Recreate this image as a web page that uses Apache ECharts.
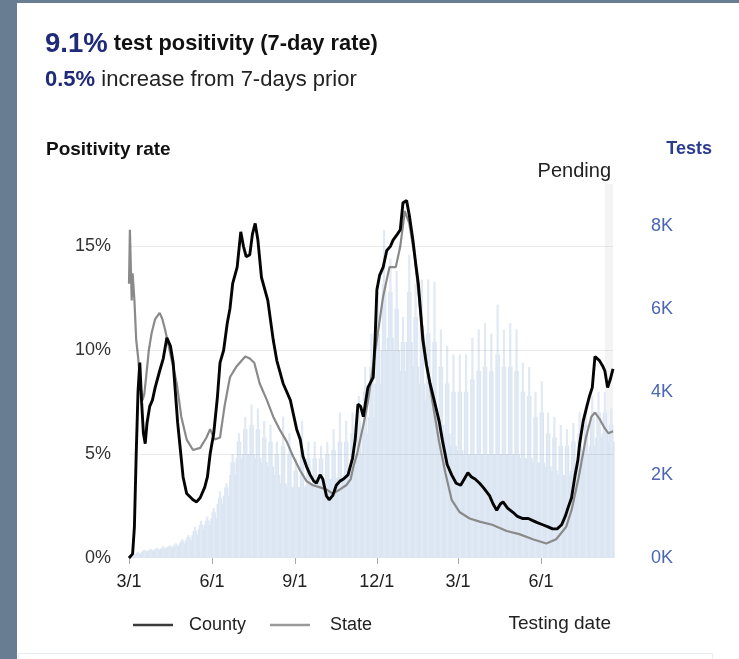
<!DOCTYPE html>
<html>
<head>
<meta charset="utf-8">
<script src="https://cdn.jsdelivr.net/npm/echarts@6/dist/echarts.min.js"></script>
<style>
  html, body { margin: 0; padding: 0; }
  body { width: 739px; height: 659px; background: #687c92; position: relative; overflow: hidden; }
  #panel { position: absolute; left: 17px; top: 3px; right: 0; bottom: 0; background: #fff; }
  #nextbox { position: absolute; left: 18px; top: 653px; width: 693px; height: 30px; border: 1px solid #e8ecf4; background: #fff; }
  #chart { position: absolute; left: 0; top: 0; width: 739px; height: 659px; }
</style>
</head>
<body>
<div id="panel"></div>
<div id="nextbox"></div>
<div id="chart"></div>
<script>
// ---- Data ----
const headlineRate = '9.1%';
const headlineChange = '0.5%';

// County 7-day positivity (%), [date, value]
const countyRate = [
  ['2020-03-01',0],['2020-03-05',0.2],['2020-03-07',1.5],['2020-03-09',5.0],['2020-03-11',8.0],
  ['2020-03-13',9.4],['2020-03-15',7.5],['2020-03-17',6.0],['2020-03-19',5.5],['2020-03-21',6.5],
  ['2020-03-24',7.3],['2020-03-27',7.6],['2020-03-30',8.2],['2020-04-04',9.0],['2020-04-08',9.6],
  ['2020-04-12',10.6],['2020-04-16',10.2],['2020-04-19',9.4],['2020-04-24',6.5],['2020-04-30',3.9],
  ['2020-05-04',3.1],['2020-05-11',2.8],['2020-05-15',2.7],['2020-05-19',2.9],['2020-05-24',3.4],
  ['2020-05-27',3.9],['2020-05-30',5.0],['2020-06-03',6.0],['2020-06-07',7.7],['2020-06-10',9.4],
  ['2020-06-14',10.0],['2020-06-18',11.3],['2020-06-21',12.0],['2020-06-24',13.2],['2020-06-29',14.0],
  ['2020-07-03',15.7],['2020-07-06',15.0],['2020-07-09',14.5],['2020-07-13',14.6],['2020-07-16',15.6],
  ['2020-07-19',16.1],['2020-07-22',15.3],['2020-07-26',13.5],['2020-08-02',12.4],['2020-08-08',10.5],
  ['2020-08-12',9.5],['2020-08-19',8.4],['2020-08-23',8.0],['2020-08-27',7.6],['2020-08-31',6.8],
  ['2020-09-03',6.2],['2020-09-07',5.7],['2020-09-10',4.9],['2020-09-14',4.4],['2020-09-18',4.0],
  ['2020-09-22',3.7],['2020-09-25',3.6],['2020-09-29',4.0],['2020-10-02',3.8],['2020-10-06',3.0],
  ['2020-10-09',2.8],['2020-10-13',3.0],['2020-10-17',3.5],['2020-10-21',3.7],['2020-10-25',3.8],
  ['2020-10-30',4.0],['2020-11-04',4.8],['2020-11-07',5.7],['2020-11-10',7.4],['2020-11-13',7.3],
  ['2020-11-16',6.8],['2020-11-21',8.2],['2020-11-27',8.7],['2020-11-29',10.5],['2020-12-01',12.9],
  ['2020-12-04',13.6],['2020-12-08',14.0],['2020-12-12',14.8],['2020-12-16',15.0],['2020-12-19',15.3],
  ['2020-12-24',15.6],['2020-12-27',15.8],['2020-12-30',17.1],['2021-01-03',17.2],['2021-01-06',16.5],
  ['2021-01-10',15.3],['2021-01-13',14.2],['2021-01-16',13.2],['2021-01-21',10.5],['2021-01-25',9.3],
  ['2021-01-29',8.4],['2021-02-02',7.7],['2021-02-08',6.6],['2021-02-12',5.6],['2021-02-17',4.5],
  ['2021-02-22',4.0],['2021-02-27',3.6],['2021-03-04',3.5],['2021-03-08',3.8],['2021-03-12',4.1],
  ['2021-03-16',3.9],['2021-03-20',3.8],['2021-03-25',3.6],['2021-03-29',3.4],['2021-04-05',3.0],
  ['2021-04-09',2.6],['2021-04-13',2.3],['2021-04-17',2.6],['2021-04-20',2.7],['2021-04-25',2.4],
  ['2021-05-01',2.2],['2021-05-06',2.0],['2021-05-12',1.9],['2021-05-18',1.9],['2021-05-23',1.8],
  ['2021-05-28',1.7],['2021-06-03',1.6],['2021-06-09',1.5],['2021-06-14',1.4],['2021-06-19',1.4],
  ['2021-06-24',1.6],['2021-06-28',2.0],['2021-07-01',2.4],['2021-07-05',2.9],['2021-07-09',4.0],
  ['2021-07-12',4.7],['2021-07-14',5.5],['2021-07-18',6.6],['2021-07-22',7.3],['2021-07-25',7.8],
  ['2021-07-28',8.2],['2021-07-31',9.7],['2021-08-05',9.5],['2021-08-09',9.2],['2021-08-11',9.0],
  ['2021-08-14',8.2],['2021-08-17',8.6],['2021-08-20',9.1]
];

// State 7-day positivity (%), [date, value]
const stateRate = [
  ['2020-03-01',13.2],['2020-03-02',15.8],['2020-03-04',12.4],['2020-03-05',13.7],['2020-03-07',12.4],
  ['2020-03-09',10.5],['2020-03-11',9.7],['2020-03-14',8.2],['2020-03-16',7.6],['2020-03-18',7.9],
  ['2020-03-20',8.7],['2020-03-23',10.0],['2020-03-26',10.8],['2020-03-30',11.5],['2020-04-04',11.8],
  ['2020-04-07',11.5],['2020-04-10',11.0],['2020-04-15',10.0],['2020-04-19',9.2],['2020-04-23',8.4],
  ['2020-04-28',6.8],['2020-05-04',5.7],['2020-05-11',5.2],['2020-05-19',5.3],['2020-05-26',5.8],
  ['2020-05-30',6.2],['2020-06-04',5.7],['2020-06-10',5.8],['2020-06-15',7.3],['2020-06-21',8.7],
  ['2020-06-28',9.2],['2020-07-08',9.7],['2020-07-13',9.6],['2020-07-18',9.4],['2020-07-24',8.4],
  ['2020-08-01',7.6],['2020-08-08',6.8],['2020-08-15',6.2],['2020-08-23',5.6],['2020-08-30',4.9],
  ['2020-09-07',4.2],['2020-09-14',3.7],['2020-09-21',3.5],['2020-09-29',3.4],['2020-10-06',3.3],
  ['2020-10-13',3.1],['2020-10-21',3.3],['2020-10-28',3.5],['2020-11-02',3.8],['2020-11-05',4.4],
  ['2020-11-09',5.0],['2020-11-13',5.8],['2020-11-17',6.6],['2020-11-21',7.5],['2020-11-26',9.0],
  ['2020-12-02',10.8],['2020-12-08',12.6],['2020-12-15',14.0],['2020-12-22',14.0],['2020-12-27',15.0],
  ['2021-01-01',16.7],['2021-01-06',16.1],['2021-01-12',14.5],['2021-01-17',12.4],['2021-01-24',9.7],
  ['2021-01-31',7.7],['2021-02-08',5.6],['2021-02-15',4.1],['2021-02-22',2.8],['2021-03-03',2.2],
  ['2021-03-14',1.9],['2021-03-25',1.75],['2021-04-08',1.6],['2021-04-24',1.3],['2021-05-08',1.15],
  ['2021-05-23',0.9],['2021-06-07',0.7],['2021-06-18',0.9],['2021-06-29',1.5],['2021-07-05',2.3],
  ['2021-07-13',3.9],['2021-07-21',5.8],['2021-07-27',6.8],['2021-07-31',7.0],['2021-08-05',6.7],
  ['2021-08-10',6.3],['2021-08-15',6.0],['2021-08-20',6.1]
];

// Tests per day (thousands), one entry per week: low level, typical level, weekly high
const weekDates = [
  '2020-03-04','2020-03-11','2020-03-18','2020-03-25','2020-04-01','2020-04-08','2020-04-15','2020-04-22',
  '2020-04-29','2020-05-06','2020-05-13','2020-05-20','2020-05-27','2020-06-03','2020-06-10','2020-06-17',
  '2020-06-24','2020-07-01','2020-07-08','2020-07-15','2020-07-22','2020-07-29','2020-08-05','2020-08-12',
  '2020-08-19','2020-08-26','2020-09-02','2020-09-09','2020-09-16','2020-09-23','2020-09-30','2020-10-07',
  '2020-10-14','2020-10-21','2020-10-28','2020-11-04','2020-11-11','2020-11-18','2020-11-25','2020-12-02',
  '2020-12-09','2020-12-16','2020-12-23','2020-12-30','2021-01-06','2021-01-13','2021-01-20','2021-01-27',
  '2021-02-03','2021-02-10','2021-02-17','2021-02-24','2021-03-03','2021-03-10','2021-03-17','2021-03-24',
  '2021-03-31','2021-04-07','2021-04-14','2021-04-21','2021-04-28','2021-05-05','2021-05-12','2021-05-19',
  '2021-05-26','2021-06-02','2021-06-09','2021-06-16','2021-06-23','2021-06-30','2021-07-07','2021-07-14',
  '2021-07-21','2021-07-28','2021-08-04','2021-08-11','2021-08-18'
];
const testsBase = [
  0.05,0.10,0.15,0.17,0.20,0.22,0.25,0.28,0.35,0.42,0.55,0.70,0.80,
  0.95,1.30,1.50,2.00,2.40,2.50,2.50,2.40,2.30,2.20,2.00,1.80,1.70,
  1.70,1.70,1.75,1.80,1.85,1.90,1.90,1.95,2.00,2.20,2.50,3.00,3.40,
  4.20,5.00,5.30,5.00,4.50,5.20,4.60,4.20,3.80,3.60,3.20,3.00,2.70,
  2.60,2.50,2.50,2.50,2.50,2.50,2.50,2.50,2.50,2.50,2.40,2.40,2.30,
  2.30,2.20,2.10,2.00,2.00,2.10,2.30,2.50,2.70,2.90,3.00,2.80
];
const testsMid = [
  0.08,0.12,0.18,0.20,0.22,0.25,0.28,0.32,0.40,0.50,0.65,0.80,0.90,
  1.10,1.45,1.70,2.30,2.80,3.10,3.20,3.10,2.90,2.80,2.50,2.70,2.50,
  2.10,2.60,2.40,2.40,2.40,2.50,2.60,2.80,2.80,3.00,3.30,4.00,4.60,
  5.40,6.60,6.40,6.00,5.20,6.40,5.80,5.60,5.40,5.20,4.60,4.20,4.00,
  4.00,4.00,4.30,4.50,4.60,4.50,4.90,4.60,4.60,4.50,4.00,3.90,3.40,
  3.50,3.00,2.90,2.70,2.70,2.80,3.00,3.20,3.40,3.50,3.50,3.20
];
const testsPeak = [
  0.10,0.15,0.20,0.22,0.25,0.28,0.30,0.35,0.45,0.55,0.75,0.90,1.00,
  1.20,1.60,1.80,2.50,3.00,3.40,3.70,3.60,3.30,3.20,2.80,3.40,3.00,
  2.40,3.30,2.80,2.80,2.70,2.80,3.10,3.50,3.30,3.50,3.90,4.60,5.40,
  6.40,7.90,7.20,6.90,5.80,7.30,6.60,6.70,6.70,6.65,5.50,5.10,4.90,
  4.90,4.90,5.30,5.50,5.65,5.40,6.10,5.50,5.65,5.50,4.70,4.60,4.00,
  4.25,3.50,3.40,3.20,3.10,3.25,3.50,3.70,3.90,4.00,4.00,3.60
];

const xStart = '2020-03-01';
const xEnd = '2021-08-20';
const pendingStart = '2021-08-11';
const xTickDates = ['2020-03-01','2020-06-01','2020-09-01','2020-12-01','2021-03-01','2021-06-01'];
const rateGridLines = [5, 10, 15];

// ---- Chart ----
const T = s => { const p = s.split('-').map(Number); return Date.UTC(p[0], p[1] - 1, p[2]); };
const FONT = 'Liberation Sans, Arial, sans-serif';
const chart = echarts.init(document.getElementById('chart'), null, { renderer: 'canvas' });

const xCommon = { type: 'value', min: T(xStart), max: T(xEnd), scale: true };
const hiddenX = Object.assign({}, xCommon, { show: false, splitLine: { show: false } });
const BAR_COLOR = '#dce6f2';

const option = {
  backgroundColor: 'transparent',
  animation: false,
  textStyle: { fontFamily: FONT },
  title: [
    { text: '{a|' + headlineRate + '}{b| test positivity (7-day rate)}', left: 45, top: 30, padding: 0,
      textStyle: { rich: {
        a: { fontSize: 27.5, fontWeight: 'bold', color: '#1f2a78', fontFamily: FONT },
        b: { fontSize: 21.8, fontWeight: 'bold', color: '#111', fontFamily: FONT }
      } } },
    { text: '{a|' + headlineChange + '}{b| increase from 7-days prior}', left: 45, top: 69, padding: 0,
      textStyle: { rich: {
        a: { fontSize: 22, fontWeight: 'bold', color: '#1f2a78', fontFamily: FONT },
        b: { fontSize: 22, fontWeight: 'normal', color: '#222', fontFamily: FONT }
      } } },
    { text: 'Positivity rate', left: 46, top: 140, padding: 0,
      textStyle: { fontSize: 19, fontWeight: 'bold', color: '#111', fontFamily: FONT } },
    { text: 'Tests', right: 27, top: 140, padding: 0,
      textStyle: { fontSize: 18, fontWeight: 'bold', color: '#2a3c8e', fontFamily: FONT } },
    { text: 'Pending', right: 128, top: 161, padding: 0,
      textStyle: { fontSize: 20, fontWeight: 'normal', color: '#222', fontFamily: FONT } },
    { text: 'Testing date', right: 128, top: 614, padding: 0,
      textStyle: { fontSize: 19, fontWeight: 'normal', color: '#222', fontFamily: FONT } }
  ],
  legend: {
    data: [
      { name: 'County', itemStyle: { color: '#3a3a3a' } },
      { name: 'State', itemStyle: { color: '#9a9a9a' }, textStyle: { padding: [0, 0, 0, 15] } }
    ],
    left: 128, top: 611, icon: 'rect', itemWidth: 40, itemHeight: 2.5, itemGap: 24,
    selectedMode: false,
    textStyle: { fontSize: 18, color: '#222', fontFamily: FONT, padding: [0, 0, 0, 11] }
  },
  grid: { left: 129, right: 126, top: 184, bottom: 101, containLabel: false },
  xAxis: [
    Object.assign({}, xCommon, {
      axisLine: { show: false },
      axisTick: { show: true, customValues: xTickDates.map(T), length: 6, lineStyle: { color: '#aaa' } },
      axisLabel: {
        customValues: xTickDates.map(T), margin: 15, fontSize: 18, color: '#222', fontFamily: FONT,
        formatter: v => { const d = new Date(v); return (d.getUTCMonth() + 1) + '/' + d.getUTCDate(); }
      },
      splitLine: { show: false }
    }),
    hiddenX,
    Object.assign({}, hiddenX)
  ],
  yAxis: [
    {
      type: 'value', min: 0, max: 18, interval: 5, position: 'left',
      axisLine: { show: false }, axisTick: { show: false }, splitLine: { show: false },
      axisLabel: { margin: 18, fontSize: 18, color: '#333', fontFamily: FONT,
        formatter: v => (v % 5 === 0 && v <= 15) ? v + '%' : '' }
    },
    {
      type: 'value', min: 0, max: 9000, interval: 2000, position: 'right',
      axisLine: { show: false }, axisTick: { show: false }, splitLine: { show: false },
      axisLabel: { margin: 38, fontSize: 18, color: '#4a66b4', fontFamily: FONT,
        formatter: v => v > 8000 ? '' : (v / 1000) + 'K' }
    }
  ],
  series: [
    {
      name: 'Tests', type: 'bar', xAxisIndex: 0, yAxisIndex: 1, silent: true,
      barWidth: 7, itemStyle: { color: BAR_COLOR },
      data: weekDates.map((d, i) => [T(d), testsBase[i] * 1000])
    },
    {
      name: 'Tests typical', type: 'bar', xAxisIndex: 1, yAxisIndex: 1, silent: true,
      barWidth: 4.5, itemStyle: { color: BAR_COLOR },
      data: weekDates.map((d, i) => [T(d), testsMid[i] * 1000])
    },
    {
      name: 'Tests high', type: 'bar', xAxisIndex: 2, yAxisIndex: 1, silent: true,
      barWidth: 2.2, itemStyle: { color: '#e0e9f4' },
      data: weekDates.map((d, i) => [T(d), testsPeak[i] * 1000])
    },
    {
      name: 'State', type: 'line', xAxisIndex: 0, yAxisIndex: 0, symbol: 'none', silent: true,
      itemStyle: { color: '#9a9a9a' },
      lineStyle: { color: '#8a8a8a', width: 2.2 },
      data: stateRate.map(p => [T(p[0]), p[1]]),
      markLine: {
        silent: true, symbol: 'none', label: { show: false },
        lineStyle: { color: 'rgba(0,0,0,0.08)', width: 1, type: 'solid' },
        data: rateGridLines.map(v => ({ yAxis: v }))
      },
      markArea: {
        silent: true, itemStyle: { color: 'rgba(110,110,110,0.08)' },
        data: [[{ xAxis: T(pendingStart) }, { xAxis: T(xEnd) }]]
      }
    },
    {
      name: 'County', type: 'line', xAxisIndex: 0, yAxisIndex: 0, symbol: 'none', silent: true,
      itemStyle: { color: '#3a3a3a' },
      lineStyle: { color: '#050505', width: 2.9 },
      data: countyRate.map(p => [T(p[0]), p[1]])
    }
  ]
};
chart.setOption(option);
</script>
</body>
</html>
